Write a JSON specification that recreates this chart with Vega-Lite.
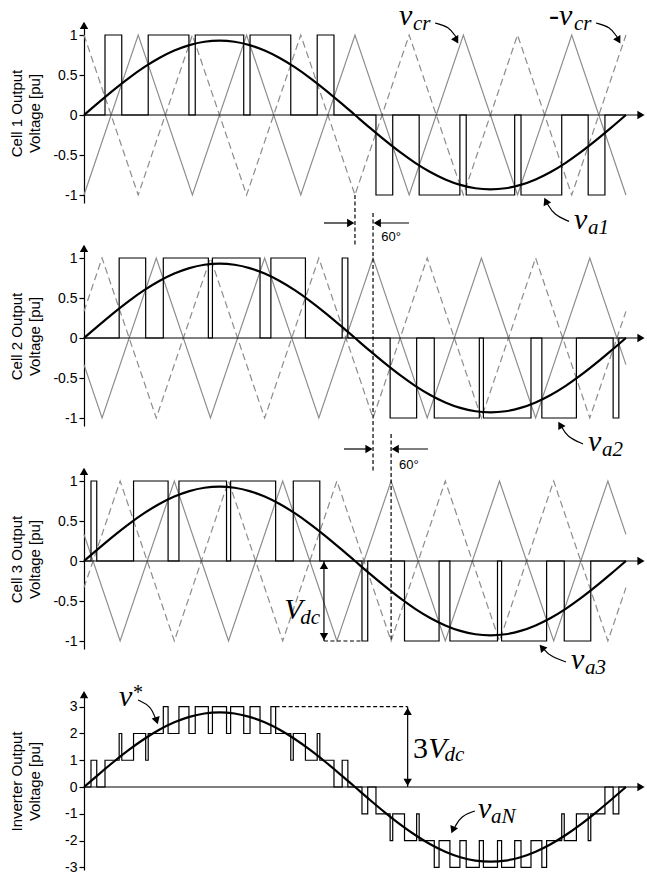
{
"$schema":"https://vega.github.io/schema/vega-lite/v6.json",
"padding":{"left":9,"top":0,"right":0,"bottom":0},
"spacing":43,
"bounds":"flush",
"config":{"view":{"stroke":null},"axis":{"domainColor":"black","tickColor":"black","labelColor":"black","titleColor":"black","labelFont":"Liberation Sans","titleFont":"Liberation Sans","labelFontSize":14,"titleFontSize":15,"titleFontWeight":"normal","tickSize":5,"labelPadding":2,"grid":false,"domainWidth":1.2,"tickWidth":1.2,"titleLineHeight":18,"labelOverlap":false}},
"datasets":{
"sine":[{"t":0,"v1":0,"v3":0},{"t":10,"v1":0.1615,"v3":0.4845},{"t":20,"v1":0.3181,"v3":0.9542},{"t":30,"v1":0.465,"v3":1.395},{"t":40,"v1":0.5978,"v3":1.7934},{"t":50,"v1":0.7124,"v3":2.1373},{"t":60,"v1":0.8054,"v3":2.4162},{"t":70,"v1":0.8739,"v3":2.6217},{"t":80,"v1":0.9159,"v3":2.7476},{"t":90,"v1":0.93,"v3":2.79},{"t":100,"v1":0.9159,"v3":2.7476},{"t":110,"v1":0.8739,"v3":2.6217},{"t":120,"v1":0.8054,"v3":2.4162},{"t":130,"v1":0.7124,"v3":2.1373},{"t":140,"v1":0.5978,"v3":1.7934},{"t":150,"v1":0.465,"v3":1.395},{"t":160,"v1":0.3181,"v3":0.9542},{"t":170,"v1":0.1615,"v3":0.4845},{"t":180,"v1":0,"v3":0},{"t":190,"v1":-0.1615,"v3":-0.4845},{"t":200,"v1":-0.3181,"v3":-0.9542},{"t":210,"v1":-0.465,"v3":-1.395},{"t":220,"v1":-0.5978,"v3":-1.7934},{"t":230,"v1":-0.7124,"v3":-2.1373},{"t":240,"v1":-0.8054,"v3":-2.4162},{"t":250,"v1":-0.8739,"v3":-2.6217},{"t":260,"v1":-0.9159,"v3":-2.7476},{"t":270,"v1":-0.93,"v3":-2.79},{"t":280,"v1":-0.9159,"v3":-2.7476},{"t":290,"v1":-0.8739,"v3":-2.6217},{"t":300,"v1":-0.8054,"v3":-2.4162},{"t":310,"v1":-0.7124,"v3":-2.1373},{"t":320,"v1":-0.5978,"v3":-1.7934},{"t":330,"v1":-0.465,"v3":-1.395},{"t":340,"v1":-0.3181,"v3":-0.9542},{"t":350,"v1":-0.1615,"v3":-0.4845},{"t":360,"v1":0,"v3":0}],
"car":[
{"p":1,"t":0,"s":-1,"d":1},{"p":1,"t":36,"s":1,"d":-1},{"p":1,"t":72,"s":-1,"d":1},{"p":1,"t":108,"s":1,"d":-1},{"p":1,"t":144,"s":-1,"d":1},{"p":1,"t":180,"s":1,"d":-1},{"p":1,"t":216,"s":-1,"d":1},{"p":1,"t":252,"s":1,"d":-1},{"p":1,"t":288,"s":-1,"d":1},{"p":1,"t":324,"s":1,"d":-1},{"p":1,"t":360,"s":-1,"d":1},
{"p":2,"t":0,"s":-0.333,"d":0.333},{"p":2,"t":12,"s":-1,"d":1},{"p":2,"t":48,"s":1,"d":-1},{"p":2,"t":84,"s":-1,"d":1},{"p":2,"t":120,"s":1,"d":-1},{"p":2,"t":156,"s":-1,"d":1},{"p":2,"t":192,"s":1,"d":-1},{"p":2,"t":228,"s":-1,"d":1},{"p":2,"t":264,"s":1,"d":-1},{"p":2,"t":300,"s":-1,"d":1},{"p":2,"t":336,"s":1,"d":-1},{"p":2,"t":360,"s":-0.333,"d":0.333},
{"p":3,"t":0,"s":0.333,"d":-0.333},{"p":3,"t":24,"s":-1,"d":1},{"p":3,"t":60,"s":1,"d":-1},{"p":3,"t":96,"s":-1,"d":1},{"p":3,"t":132,"s":1,"d":-1},{"p":3,"t":168,"s":-1,"d":1},{"p":3,"t":204,"s":1,"d":-1},{"p":3,"t":240,"s":-1,"d":1},{"p":3,"t":276,"s":1,"d":-1},{"p":3,"t":312,"s":-1,"d":1},{"p":3,"t":348,"s":1,"d":-1},{"p":3,"t":360,"s":0.333,"d":-0.333}],
"pwm":[
{"p":1,"t":0,"v":0},{"p":1,"t":13.95,"v":1},{"p":1,"t":25.08,"v":0},{"p":1,"t":42.65,"v":1},{"p":1,"t":69.7,"v":0},{"p":1,"t":73.9,"v":1},{"p":1,"t":106.1,"v":0},{"p":1,"t":110.3,"v":1},{"p":1,"t":137.35,"v":0},{"p":1,"t":154.92,"v":1},{"p":1,"t":166.05,"v":0},{"p":1,"t":193.95,"v":-1},{"p":1,"t":205.08,"v":0},{"p":1,"t":222.65,"v":-1},{"p":1,"t":249.7,"v":0},{"p":1,"t":253.9,"v":-1},{"p":1,"t":286.1,"v":0},{"p":1,"t":290.3,"v":-1},{"p":1,"t":317.35,"v":0},{"p":1,"t":334.92,"v":-1},{"p":1,"t":346.05,"v":0},{"p":1,"t":360,"v":0},
{"p":2,"t":0,"v":0},{"p":2,"t":23.36,"v":1},{"p":2,"t":40.97,"v":0},{"p":2,"t":52.68,"v":1},{"p":2,"t":82.6,"v":0},{"p":2,"t":85.32,"v":1},{"p":2,"t":116.93,"v":0},{"p":2,"t":124.15,"v":1},{"p":2,"t":147.09,"v":0},{"p":2,"t":171.5,"v":1},{"p":2,"t":175.28,"v":0},{"p":2,"t":203.36,"v":-1},{"p":2,"t":220.97,"v":0},{"p":2,"t":232.68,"v":-1},{"p":2,"t":262.6,"v":0},{"p":2,"t":265.32,"v":-1},{"p":2,"t":296.93,"v":0},{"p":2,"t":304.15,"v":-1},{"p":2,"t":327.09,"v":0},{"p":2,"t":351.5,"v":-1},{"p":2,"t":355.28,"v":0},{"p":2,"t":360,"v":0},
{"p":3,"t":0,"v":0},{"p":3,"t":4.65,"v":1},{"p":3,"t":8.47,"v":0},{"p":3,"t":32.91,"v":1},{"p":3,"t":55.86,"v":0},{"p":3,"t":63.07,"v":1},{"p":3,"t":94.68,"v":0},{"p":3,"t":97.4,"v":1},{"p":3,"t":127.31,"v":0},{"p":3,"t":139.02,"v":1},{"p":3,"t":156.64,"v":0},{"p":3,"t":184.65,"v":-1},{"p":3,"t":188.47,"v":0},{"p":3,"t":212.91,"v":-1},{"p":3,"t":235.86,"v":0},{"p":3,"t":243.07,"v":-1},{"p":3,"t":274.68,"v":0},{"p":3,"t":277.4,"v":-1},{"p":3,"t":307.31,"v":0},{"p":3,"t":319.02,"v":-1},{"p":3,"t":336.64,"v":0},{"p":3,"t":360,"v":0},
{"p":4,"t":0,"v":0},{"p":4,"t":4.65,"v":1},{"p":4,"t":8.47,"v":0},{"p":4,"t":13.95,"v":1},{"p":4,"t":23.36,"v":2},{"p":4,"t":25.08,"v":1},{"p":4,"t":32.91,"v":2},{"p":4,"t":40.97,"v":1},{"p":4,"t":42.65,"v":2},{"p":4,"t":52.68,"v":3},{"p":4,"t":55.86,"v":2},{"p":4,"t":63.07,"v":3},{"p":4,"t":69.7,"v":2},{"p":4,"t":73.9,"v":3},{"p":4,"t":82.6,"v":2},{"p":4,"t":85.32,"v":3},{"p":4,"t":94.68,"v":2},{"p":4,"t":97.4,"v":3},{"p":4,"t":106.1,"v":2},{"p":4,"t":110.3,"v":3},{"p":4,"t":116.93,"v":2},{"p":4,"t":124.15,"v":3},{"p":4,"t":127.31,"v":2},{"p":4,"t":137.35,"v":1},{"p":4,"t":139.02,"v":2},{"p":4,"t":147.09,"v":1},{"p":4,"t":154.92,"v":2},{"p":4,"t":156.64,"v":1},{"p":4,"t":166.05,"v":0},{"p":4,"t":171.5,"v":1},{"p":4,"t":175.28,"v":0},
{"p":4,"t":184.65,"v":-1},{"p":4,"t":188.47,"v":0},{"p":4,"t":193.95,"v":-1},{"p":4,"t":203.36,"v":-2},{"p":4,"t":205.08,"v":-1},{"p":4,"t":212.91,"v":-2},{"p":4,"t":220.97,"v":-1},{"p":4,"t":222.65,"v":-2},{"p":4,"t":232.68,"v":-3},{"p":4,"t":235.86,"v":-2},{"p":4,"t":243.07,"v":-3},{"p":4,"t":249.7,"v":-2},{"p":4,"t":253.9,"v":-3},{"p":4,"t":262.6,"v":-2},{"p":4,"t":265.32,"v":-3},{"p":4,"t":274.68,"v":-2},{"p":4,"t":277.4,"v":-3},{"p":4,"t":286.1,"v":-2},{"p":4,"t":290.3,"v":-3},{"p":4,"t":296.93,"v":-2},{"p":4,"t":304.15,"v":-3},{"p":4,"t":307.31,"v":-2},{"p":4,"t":317.35,"v":-1},{"p":4,"t":319.02,"v":-2},{"p":4,"t":327.09,"v":-1},{"p":4,"t":334.92,"v":-2},{"p":4,"t":336.64,"v":-1},{"p":4,"t":346.05,"v":0},{"p":4,"t":351.5,"v":-1},{"p":4,"t":355.28,"v":0},{"p":4,"t":360,"v":0}],
"arw":[
{"p":1,"id":"ax","t":0,"v":0},{"p":1,"id":"ax","t":369,"v":0},
{"p":1,"id":"cr","t":233.2,"v":1.15},{"p":1,"id":"cr","t":242.5,"v":1.105},{"p":1,"id":"cr","t":247.1,"v":0.975},
{"p":1,"id":"ncr","t":340.1,"v":1.15},{"p":1,"id":"ncr","t":349.4,"v":1.105},{"p":1,"id":"ncr","t":354.1,"v":0.975},
{"p":1,"id":"a1","t":322.2,"v":-1.33},{"p":1,"id":"a1","t":312.2,"v":-1.25},{"p":1,"id":"a1","t":307.5,"v":-1.1},
{"p":1,"id":"r","t":159.4,"v":-1.35},{"p":1,"id":"r","t":178,"v":-1.35},
{"p":1,"id":"l","t":215.9,"v":-1.35},{"p":1,"id":"l","t":195,"v":-1.35},
{"p":2,"id":"ax","t":0,"v":0},{"p":2,"id":"ax","t":369,"v":0},
{"p":2,"id":"a2","t":331.5,"v":-1.325},{"p":2,"id":"a2","t":320.8,"v":-1.235},{"p":2,"id":"a2","t":317,"v":-1.1},
{"p":2,"id":"r","t":172.7,"v":-1.3875},{"p":2,"id":"r","t":190,"v":-1.3875},
{"p":2,"id":"l","t":228.5,"v":-1.3875},{"p":2,"id":"l","t":206,"v":-1.3875},
{"p":3,"id":"ax","t":0,"v":0},{"p":3,"id":"ax","t":369,"v":0},
{"p":3,"id":"a3","t":320.2,"v":-1.2625},{"p":3,"id":"a3","t":309.5,"v":-1.19},{"p":3,"id":"a3","t":305,"v":-1.09},
{"p":3,"id":"vd","t":159.4,"v":0},{"p":3,"id":"vd","t":159.4,"v":-1},
{"p":4,"id":"ax","t":0,"v":0},{"p":4,"id":"ax","t":369,"v":0},
{"p":4,"id":"v3","t":215,"v":0},{"p":4,"id":"v3","t":215,"v":3},
{"p":4,"id":"vs","t":35.9,"v":3.25},{"p":4,"id":"vs","t":44.5,"v":3.027},{"p":4,"id":"vs","t":47.8,"v":2.504},
{"p":4,"id":"an","t":259.7,"v":-0.895},{"p":4,"id":"an","t":250.4,"v":-1.08},{"p":4,"id":"an","t":246.4,"v":-1.493}],
"hd":[
{"p":1,"t":0,"v":1.12,"dir":0},{"p":1,"t":370,"v":0,"dir":90},{"p":1,"t":247.4,"v":0.934,"dir":150},{"p":1,"t":355.1,"v":0.934,"dir":150},{"p":1,"t":306.8,"v":-1.076,"dir":335},{"p":1,"t":177.2,"v":-1.35,"dir":90},{"p":1,"t":194.8,"v":-1.35,"dir":270},
{"p":2,"t":0,"v":1.12,"dir":0},{"p":2,"t":370,"v":0,"dir":90},{"p":2,"t":316.3,"v":-1.086,"dir":330},{"p":2,"t":189.3,"v":-1.3875,"dir":90},{"p":2,"t":206.7,"v":-1.3875,"dir":270},
{"p":3,"t":0,"v":1.12,"dir":0},{"p":3,"t":370,"v":0,"dir":90},{"p":3,"t":304.2,"v":-1.081,"dir":320},{"p":3,"t":159.4,"v":-0.056,"dir":0},{"p":3,"t":159.4,"v":-0.944,"dir":180},
{"p":4,"t":0,"v":3.45,"dir":0},{"p":4,"t":370,"v":0,"dir":90},{"p":4,"t":215,"v":2.83,"dir":0},{"p":4,"t":215,"v":0.17,"dir":180},{"p":4,"t":48.3,"v":2.478,"dir":163},{"p":4,"t":245,"v":-1.6,"dir":203}],
"dash":[
{"p":1,"id":"a","t":180,"v":-1},{"p":1,"id":"a","t":180,"v":-1.625},
{"p":2,"id":"b","t":192,"v":1.5625},{"p":2,"id":"b","t":192,"v":-1.66},
{"p":3,"id":"c","t":204,"v":1.5875},{"p":3,"id":"c","t":204,"v":-1},
{"p":3,"id":"e","t":159.4,"v":-1},{"p":3,"id":"e","t":184.65,"v":-1},
{"p":4,"id":"f","t":127.31,"v":3},{"p":4,"id":"f","t":215,"v":3}],
"lbl":[
{"p":1,"k":"big","t":209.2,"v":1.125,"txt":"v"},{"p":1,"k":"sub","t":218.5,"v":1.0625,"txt":"cr"},
{"p":1,"k":"big","t":308.9,"v":1.125,"txt":"-v"},{"p":1,"k":"sub","t":325.5,"v":1.0625,"txt":"cr"},
{"p":1,"k":"big","t":325.5,"v":-1.425,"txt":"v"},{"p":1,"k":"sub","t":334.8,"v":-1.49,"txt":"a1"},
{"p":1,"k":"deg","t":197.5,"v":-1.575,"txt":"60°"},
{"p":2,"k":"big","t":334.8,"v":-1.4125,"txt":"v"},{"p":2,"k":"sub","t":344.1,"v":-1.475,"txt":"a2"},
{"p":2,"k":"deg","t":209.2,"v":-1.6375,"txt":"60°"},
{"p":3,"k":"big","t":323.5,"v":-1.35,"txt":"v"},{"p":3,"k":"sub","t":332.8,"v":-1.4125,"txt":"a3"},
{"p":3,"k":"big","t":133,"v":-0.725,"txt":"V"},{"p":3,"k":"sub","t":143.6,"v":-0.7875,"txt":"dc"},
{"p":4,"k":"big","t":23.2,"v":3.027,"txt":"v"},{"p":4,"k":"star","t":32.5,"v":3.29,"txt":"*"},
{"p":4,"k":"big","t":261.7,"v":-1.157,"txt":"v"},{"p":4,"k":"sub","t":270.4,"v":-1.344,"txt":"aN"},
{"p":4,"k":"num","t":218.5,"v":1.085,"txt":"3"},{"p":4,"k":"big","t":228.7,"v":1.085,"txt":"V"},{"p":4,"k":"sub","t":239.5,"v":0.972,"txt":"dc"}]
},
"vconcat":[
{"width":560,"height":180,"layer":[
{"data":{"name":"car"},"transform":[{"filter":"datum.p==1"}],"mark":{"type":"line","color":"#8c8c8c","strokeWidth":1.2},"encoding":{"x":{"field":"t","type":"quantitative","scale":{"domain":[0,372],"nice":false,"zero":false},"axis":null},"y":{"field":"s","type":"quantitative","scale":{"domain":[-1.1,1.15],"nice":false,"zero":false},"axis":{"title":["Cell 1 Output","Voltage [pu]"],"values":[-1,-0.5,0,0.5,1],"tickCount":20,"labelExpr":"datum.value < 0 ? '-' + format(-datum.value, '~g') : format(datum.value, '~g')","titleX":-60,"titleY":90,"titleBaseline":"bottom","titleAngle":-90,"titleAlign":"center"}}}},
{"data":{"name":"car"},"transform":[{"filter":"datum.p==1"}],"mark":{"type":"line","color":"#8c8c8c","strokeWidth":1.2,"strokeDash":[7,4]},"encoding":{"x":{"field":"t","type":"quantitative","scale":{"domain":[0,372],"nice":false,"zero":false},"axis":null},"y":{"field":"d","type":"quantitative","scale":{"domain":[-1.1,1.15],"nice":false,"zero":false}}}},
{"data":{"name":"pwm"},"transform":[{"filter":"datum.p==1"}],"mark":{"type":"line","color":"black","strokeWidth":1.2,"interpolate":"step-after"},"encoding":{"x":{"field":"t","type":"quantitative","scale":{"domain":[0,372],"nice":false,"zero":false},"axis":null},"y":{"field":"v","type":"quantitative","scale":{"domain":[-1.1,1.15],"nice":false,"zero":false}}}},
{"data":{"name":"sine"},"mark":{"type":"line","color":"black","strokeWidth":2.2,"interpolate":"monotone"},"encoding":{"x":{"field":"t","type":"quantitative","scale":{"domain":[0,372],"nice":false,"zero":false},"axis":null},"y":{"field":"v1","type":"quantitative","scale":{"domain":[-1.1,1.15],"nice":false,"zero":false}}}},
{"data":{"name":"arw"},"transform":[{"filter":"datum.p==1"}],"mark":{"type":"line","color":"black","strokeWidth":1.2,"interpolate":"basis"},"encoding":{"x":{"field":"t","type":"quantitative","scale":{"domain":[0,372],"nice":false,"zero":false},"axis":null},"y":{"field":"v","type":"quantitative","scale":{"domain":[-1.1,1.15],"nice":false,"zero":false}},"detail":{"field":"id","type":"nominal"}}},
{"data":{"name":"dash"},"transform":[{"filter":"datum.p==1"}],"mark":{"type":"line","color":"black","strokeWidth":1.2,"strokeDash":[4,2.5]},"encoding":{"x":{"field":"t","type":"quantitative","scale":{"domain":[0,372],"nice":false,"zero":false},"axis":null},"y":{"field":"v","type":"quantitative","scale":{"domain":[-1.1,1.15],"nice":false,"zero":false}},"detail":{"field":"id","type":"nominal"}}},
{"data":{"name":"hd"},"transform":[{"filter":"datum.p==1"}],"mark":{"type":"point","shape":"triangle-up","filled":true,"size":70,"color":"black","opacity":1,"strokeWidth":0},"encoding":{"x":{"field":"t","type":"quantitative","scale":{"domain":[0,372],"nice":false,"zero":false},"axis":null},"y":{"field":"v","type":"quantitative","scale":{"domain":[-1.1,1.15],"nice":false,"zero":false}},"angle":{"field":"dir","type":"quantitative","scale":null}}},
{"data":{"name":"lbl"},"transform":[{"filter":"datum.p==1 && datum.k=='big'"}],"mark":{"type":"text","font":"Liberation Serif","fontStyle":"italic","fontSize":30,"align":"left","baseline":"alphabetic","color":"black"},"encoding":{"x":{"field":"t","type":"quantitative","scale":{"domain":[0,372],"nice":false,"zero":false},"axis":null},"y":{"field":"v","type":"quantitative","scale":{"domain":[-1.1,1.15],"nice":false,"zero":false}},"text":{"field":"txt"}}},
{"data":{"name":"lbl"},"transform":[{"filter":"datum.p==1 && datum.k=='sub'"}],"mark":{"type":"text","font":"Liberation Serif","fontStyle":"italic","fontSize":21,"align":"left","baseline":"alphabetic","color":"black"},"encoding":{"x":{"field":"t","type":"quantitative","scale":{"domain":[0,372],"nice":false,"zero":false},"axis":null},"y":{"field":"v","type":"quantitative","scale":{"domain":[-1.1,1.15],"nice":false,"zero":false}},"text":{"field":"txt"}}},
{"data":{"name":"lbl"},"transform":[{"filter":"datum.p==1 && datum.k=='deg'"}],"mark":{"type":"text","font":"Liberation Sans","fontSize":13,"align":"left","baseline":"alphabetic","color":"black"},"encoding":{"x":{"field":"t","type":"quantitative","scale":{"domain":[0,372],"nice":false,"zero":false},"axis":null},"y":{"field":"v","type":"quantitative","scale":{"domain":[-1.1,1.15],"nice":false,"zero":false}},"text":{"field":"txt"}}}
]},
{"width":560,"height":180,"layer":[
{"data":{"name":"car"},"transform":[{"filter":"datum.p==2"}],"mark":{"type":"line","color":"#8c8c8c","strokeWidth":1.2},"encoding":{"x":{"field":"t","type":"quantitative","scale":{"domain":[0,372],"nice":false,"zero":false},"axis":null},"y":{"field":"s","type":"quantitative","scale":{"domain":[-1.1,1.15],"nice":false,"zero":false},"axis":{"title":["Cell 2 Output","Voltage [pu]"],"values":[-1,-0.5,0,0.5,1],"tickCount":20,"labelExpr":"datum.value < 0 ? '-' + format(-datum.value, '~g') : format(datum.value, '~g')","titleX":-60,"titleY":90,"titleBaseline":"bottom","titleAngle":-90,"titleAlign":"center"}}}},
{"data":{"name":"car"},"transform":[{"filter":"datum.p==2"}],"mark":{"type":"line","color":"#8c8c8c","strokeWidth":1.2,"strokeDash":[7,4]},"encoding":{"x":{"field":"t","type":"quantitative","scale":{"domain":[0,372],"nice":false,"zero":false},"axis":null},"y":{"field":"d","type":"quantitative","scale":{"domain":[-1.1,1.15],"nice":false,"zero":false}}}},
{"data":{"name":"pwm"},"transform":[{"filter":"datum.p==2"}],"mark":{"type":"line","color":"black","strokeWidth":1.2,"interpolate":"step-after"},"encoding":{"x":{"field":"t","type":"quantitative","scale":{"domain":[0,372],"nice":false,"zero":false},"axis":null},"y":{"field":"v","type":"quantitative","scale":{"domain":[-1.1,1.15],"nice":false,"zero":false}}}},
{"data":{"name":"sine"},"mark":{"type":"line","color":"black","strokeWidth":2.2,"interpolate":"monotone"},"encoding":{"x":{"field":"t","type":"quantitative","scale":{"domain":[0,372],"nice":false,"zero":false},"axis":null},"y":{"field":"v1","type":"quantitative","scale":{"domain":[-1.1,1.15],"nice":false,"zero":false}}}},
{"data":{"name":"arw"},"transform":[{"filter":"datum.p==2"}],"mark":{"type":"line","color":"black","strokeWidth":1.2,"interpolate":"basis"},"encoding":{"x":{"field":"t","type":"quantitative","scale":{"domain":[0,372],"nice":false,"zero":false},"axis":null},"y":{"field":"v","type":"quantitative","scale":{"domain":[-1.1,1.15],"nice":false,"zero":false}},"detail":{"field":"id","type":"nominal"}}},
{"data":{"name":"dash"},"transform":[{"filter":"datum.p==2"}],"mark":{"type":"line","color":"black","strokeWidth":1.2,"strokeDash":[4,2.5]},"encoding":{"x":{"field":"t","type":"quantitative","scale":{"domain":[0,372],"nice":false,"zero":false},"axis":null},"y":{"field":"v","type":"quantitative","scale":{"domain":[-1.1,1.15],"nice":false,"zero":false}},"detail":{"field":"id","type":"nominal"}}},
{"data":{"name":"hd"},"transform":[{"filter":"datum.p==2"}],"mark":{"type":"point","shape":"triangle-up","filled":true,"size":70,"color":"black","opacity":1,"strokeWidth":0},"encoding":{"x":{"field":"t","type":"quantitative","scale":{"domain":[0,372],"nice":false,"zero":false},"axis":null},"y":{"field":"v","type":"quantitative","scale":{"domain":[-1.1,1.15],"nice":false,"zero":false}},"angle":{"field":"dir","type":"quantitative","scale":null}}},
{"data":{"name":"lbl"},"transform":[{"filter":"datum.p==2 && datum.k=='big'"}],"mark":{"type":"text","font":"Liberation Serif","fontStyle":"italic","fontSize":30,"align":"left","baseline":"alphabetic","color":"black"},"encoding":{"x":{"field":"t","type":"quantitative","scale":{"domain":[0,372],"nice":false,"zero":false},"axis":null},"y":{"field":"v","type":"quantitative","scale":{"domain":[-1.1,1.15],"nice":false,"zero":false}},"text":{"field":"txt"}}},
{"data":{"name":"lbl"},"transform":[{"filter":"datum.p==2 && datum.k=='sub'"}],"mark":{"type":"text","font":"Liberation Serif","fontStyle":"italic","fontSize":21,"align":"left","baseline":"alphabetic","color":"black"},"encoding":{"x":{"field":"t","type":"quantitative","scale":{"domain":[0,372],"nice":false,"zero":false},"axis":null},"y":{"field":"v","type":"quantitative","scale":{"domain":[-1.1,1.15],"nice":false,"zero":false}},"text":{"field":"txt"}}},
{"data":{"name":"lbl"},"transform":[{"filter":"datum.p==2 && datum.k=='deg'"}],"mark":{"type":"text","font":"Liberation Sans","fontSize":13,"align":"left","baseline":"alphabetic","color":"black"},"encoding":{"x":{"field":"t","type":"quantitative","scale":{"domain":[0,372],"nice":false,"zero":false},"axis":null},"y":{"field":"v","type":"quantitative","scale":{"domain":[-1.1,1.15],"nice":false,"zero":false}},"text":{"field":"txt"}}}
]},
{"width":560,"height":180,"layer":[
{"data":{"name":"car"},"transform":[{"filter":"datum.p==3"}],"mark":{"type":"line","color":"#8c8c8c","strokeWidth":1.2},"encoding":{"x":{"field":"t","type":"quantitative","scale":{"domain":[0,372],"nice":false,"zero":false},"axis":null},"y":{"field":"s","type":"quantitative","scale":{"domain":[-1.1,1.15],"nice":false,"zero":false},"axis":{"title":["Cell 3 Output","Voltage [pu]"],"values":[-1,-0.5,0,0.5,1],"tickCount":20,"labelExpr":"datum.value < 0 ? '-' + format(-datum.value, '~g') : format(datum.value, '~g')","titleX":-60,"titleY":90,"titleBaseline":"bottom","titleAngle":-90,"titleAlign":"center"}}}},
{"data":{"name":"car"},"transform":[{"filter":"datum.p==3"}],"mark":{"type":"line","color":"#8c8c8c","strokeWidth":1.2,"strokeDash":[7,4]},"encoding":{"x":{"field":"t","type":"quantitative","scale":{"domain":[0,372],"nice":false,"zero":false},"axis":null},"y":{"field":"d","type":"quantitative","scale":{"domain":[-1.1,1.15],"nice":false,"zero":false}}}},
{"data":{"name":"pwm"},"transform":[{"filter":"datum.p==3"}],"mark":{"type":"line","color":"black","strokeWidth":1.2,"interpolate":"step-after"},"encoding":{"x":{"field":"t","type":"quantitative","scale":{"domain":[0,372],"nice":false,"zero":false},"axis":null},"y":{"field":"v","type":"quantitative","scale":{"domain":[-1.1,1.15],"nice":false,"zero":false}}}},
{"data":{"name":"sine"},"mark":{"type":"line","color":"black","strokeWidth":2.2,"interpolate":"monotone"},"encoding":{"x":{"field":"t","type":"quantitative","scale":{"domain":[0,372],"nice":false,"zero":false},"axis":null},"y":{"field":"v1","type":"quantitative","scale":{"domain":[-1.1,1.15],"nice":false,"zero":false}}}},
{"data":{"name":"arw"},"transform":[{"filter":"datum.p==3"}],"mark":{"type":"line","color":"black","strokeWidth":1.2,"interpolate":"basis"},"encoding":{"x":{"field":"t","type":"quantitative","scale":{"domain":[0,372],"nice":false,"zero":false},"axis":null},"y":{"field":"v","type":"quantitative","scale":{"domain":[-1.1,1.15],"nice":false,"zero":false}},"detail":{"field":"id","type":"nominal"}}},
{"data":{"name":"dash"},"transform":[{"filter":"datum.p==3"}],"mark":{"type":"line","color":"black","strokeWidth":1.2,"strokeDash":[4,2.5]},"encoding":{"x":{"field":"t","type":"quantitative","scale":{"domain":[0,372],"nice":false,"zero":false},"axis":null},"y":{"field":"v","type":"quantitative","scale":{"domain":[-1.1,1.15],"nice":false,"zero":false}},"detail":{"field":"id","type":"nominal"}}},
{"data":{"name":"hd"},"transform":[{"filter":"datum.p==3"}],"mark":{"type":"point","shape":"triangle-up","filled":true,"size":70,"color":"black","opacity":1,"strokeWidth":0},"encoding":{"x":{"field":"t","type":"quantitative","scale":{"domain":[0,372],"nice":false,"zero":false},"axis":null},"y":{"field":"v","type":"quantitative","scale":{"domain":[-1.1,1.15],"nice":false,"zero":false}},"angle":{"field":"dir","type":"quantitative","scale":null}}},
{"data":{"name":"lbl"},"transform":[{"filter":"datum.p==3 && datum.k=='big'"}],"mark":{"type":"text","font":"Liberation Serif","fontStyle":"italic","fontSize":30,"align":"left","baseline":"alphabetic","color":"black"},"encoding":{"x":{"field":"t","type":"quantitative","scale":{"domain":[0,372],"nice":false,"zero":false},"axis":null},"y":{"field":"v","type":"quantitative","scale":{"domain":[-1.1,1.15],"nice":false,"zero":false}},"text":{"field":"txt"}}},
{"data":{"name":"lbl"},"transform":[{"filter":"datum.p==3 && datum.k=='sub'"}],"mark":{"type":"text","font":"Liberation Serif","fontStyle":"italic","fontSize":21,"align":"left","baseline":"alphabetic","color":"black"},"encoding":{"x":{"field":"t","type":"quantitative","scale":{"domain":[0,372],"nice":false,"zero":false},"axis":null},"y":{"field":"v","type":"quantitative","scale":{"domain":[-1.1,1.15],"nice":false,"zero":false}},"text":{"field":"txt"}}}
]},
{"width":560,"height":178,"layer":[
{"data":{"name":"pwm"},"transform":[{"filter":"datum.p==4"}],"mark":{"type":"line","color":"black","strokeWidth":1.2,"interpolate":"step-after"},"encoding":{"x":{"field":"t","type":"quantitative","scale":{"domain":[0,372],"nice":false,"zero":false},"axis":null},"y":{"field":"v","type":"quantitative","scale":{"domain":[-3.1,3.55],"nice":false,"zero":false},"axis":{"title":["Inverter Output","Voltage [pu]"],"values":[-3,-2,-1,0,1,2,3],"tickCount":20,"labelExpr":"datum.value < 0 ? '-' + format(-datum.value, '~g') : format(datum.value, '~g')","titleX":-60,"titleY":89,"titleBaseline":"bottom","titleAngle":-90,"titleAlign":"center"}}}},
{"data":{"name":"sine"},"mark":{"type":"line","color":"black","strokeWidth":2.2,"interpolate":"monotone"},"encoding":{"x":{"field":"t","type":"quantitative","scale":{"domain":[0,372],"nice":false,"zero":false},"axis":null},"y":{"field":"v3","type":"quantitative","scale":{"domain":[-3.1,3.55],"nice":false,"zero":false}}}},
{"data":{"name":"arw"},"transform":[{"filter":"datum.p==4"}],"mark":{"type":"line","color":"black","strokeWidth":1.2,"interpolate":"basis"},"encoding":{"x":{"field":"t","type":"quantitative","scale":{"domain":[0,372],"nice":false,"zero":false},"axis":null},"y":{"field":"v","type":"quantitative","scale":{"domain":[-3.1,3.55],"nice":false,"zero":false}},"detail":{"field":"id","type":"nominal"}}},
{"data":{"name":"dash"},"transform":[{"filter":"datum.p==4"}],"mark":{"type":"line","color":"black","strokeWidth":1.2,"strokeDash":[4,2.5]},"encoding":{"x":{"field":"t","type":"quantitative","scale":{"domain":[0,372],"nice":false,"zero":false},"axis":null},"y":{"field":"v","type":"quantitative","scale":{"domain":[-3.1,3.55],"nice":false,"zero":false}},"detail":{"field":"id","type":"nominal"}}},
{"data":{"name":"hd"},"transform":[{"filter":"datum.p==4"}],"mark":{"type":"point","shape":"triangle-up","filled":true,"size":70,"color":"black","opacity":1,"strokeWidth":0},"encoding":{"x":{"field":"t","type":"quantitative","scale":{"domain":[0,372],"nice":false,"zero":false},"axis":null},"y":{"field":"v","type":"quantitative","scale":{"domain":[-3.1,3.55],"nice":false,"zero":false}},"angle":{"field":"dir","type":"quantitative","scale":null}}},
{"data":{"name":"lbl"},"transform":[{"filter":"datum.p==4 && datum.k=='big'"}],"mark":{"type":"text","font":"Liberation Serif","fontStyle":"italic","fontSize":30,"align":"left","baseline":"alphabetic","color":"black"},"encoding":{"x":{"field":"t","type":"quantitative","scale":{"domain":[0,372],"nice":false,"zero":false},"axis":null},"y":{"field":"v","type":"quantitative","scale":{"domain":[-3.1,3.55],"nice":false,"zero":false}},"text":{"field":"txt"}}},
{"data":{"name":"lbl"},"transform":[{"filter":"datum.p==4 && datum.k=='sub'"}],"mark":{"type":"text","font":"Liberation Serif","fontStyle":"italic","fontSize":21,"align":"left","baseline":"alphabetic","color":"black"},"encoding":{"x":{"field":"t","type":"quantitative","scale":{"domain":[0,372],"nice":false,"zero":false},"axis":null},"y":{"field":"v","type":"quantitative","scale":{"domain":[-3.1,3.55],"nice":false,"zero":false}},"text":{"field":"txt"}}},
{"data":{"name":"lbl"},"transform":[{"filter":"datum.p==4 && datum.k=='num'"}],"mark":{"type":"text","font":"Liberation Serif","fontSize":30,"align":"left","baseline":"alphabetic","color":"black"},"encoding":{"x":{"field":"t","type":"quantitative","scale":{"domain":[0,372],"nice":false,"zero":false},"axis":null},"y":{"field":"v","type":"quantitative","scale":{"domain":[-3.1,3.55],"nice":false,"zero":false}},"text":{"field":"txt"}}},
{"data":{"name":"lbl"},"transform":[{"filter":"datum.p==4 && datum.k=='star'"}],"mark":{"type":"text","font":"Liberation Serif","fontSize":20,"align":"left","baseline":"alphabetic","color":"black"},"encoding":{"x":{"field":"t","type":"quantitative","scale":{"domain":[0,372],"nice":false,"zero":false},"axis":null},"y":{"field":"v","type":"quantitative","scale":{"domain":[-3.1,3.55],"nice":false,"zero":false}},"text":{"field":"txt"}}}
]}
]
}
